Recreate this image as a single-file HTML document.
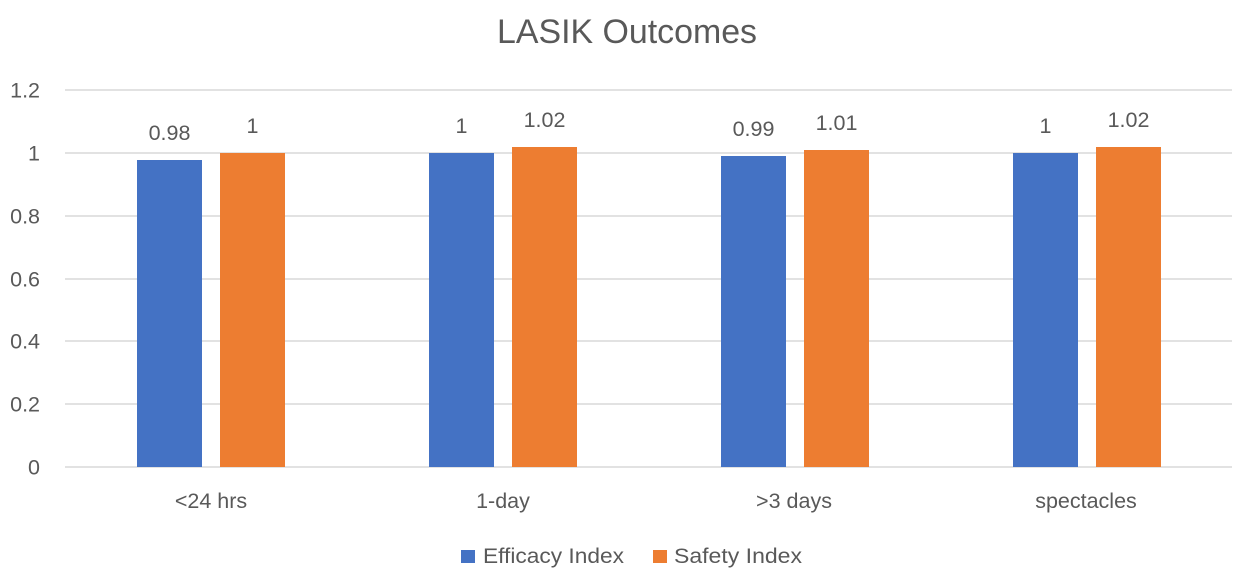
<!DOCTYPE html>
<html><head><meta charset="utf-8"><style>
html,body{margin:0;padding:0;background:#fff;}
svg{display:block;}
text{font-family:"Liberation Sans",sans-serif;fill:#595959;}
</style></head><body>
<svg width="1244" height="584" viewBox="0 0 1244 584" xmlns="http://www.w3.org/2000/svg">
<rect width="1244" height="584" fill="#fff"/>
<text x="627" y="43" font-size="34" text-anchor="middle" textLength="260" lengthAdjust="spacingAndGlyphs">LASIK Outcomes</text>
<g stroke="#D9D9D9" stroke-width="1.5">
<line x1="65" y1="90" x2="1232" y2="90"/>
<line x1="65" y1="153" x2="1232" y2="153"/>
<line x1="65" y1="216" x2="1232" y2="216"/>
<line x1="65" y1="279" x2="1232" y2="279"/>
<line x1="65" y1="341" x2="1232" y2="341"/>
<line x1="65" y1="404" x2="1232" y2="404"/>
<line x1="65" y1="467" x2="1232" y2="467"/>
</g>
<g font-size="21.5" text-anchor="end">
<text x="40" y="97.5">1.2</text>
<text x="40" y="160.5">1</text>
<text x="40" y="223.5">0.8</text>
<text x="40" y="286.5">0.6</text>
<text x="40" y="348.5">0.4</text>
<text x="40" y="411.5">0.2</text>
<text x="40" y="474.5">0</text>
</g>
<g fill="#4472C4">
<rect x="137" y="160" width="65" height="307"/>
<rect x="429" y="153" width="65" height="314"/>
<rect x="721" y="156" width="65" height="311"/>
<rect x="1013" y="153" width="65" height="314"/>
</g>
<g fill="#ED7D31">
<rect x="220" y="153" width="65" height="314"/>
<rect x="512" y="147" width="65" height="320"/>
<rect x="804" y="150" width="65" height="317"/>
<rect x="1096" y="147" width="65" height="320"/>
</g>
<g font-size="21.5" text-anchor="middle">
<text x="169.5" y="140">0.98</text>
<text x="252.5" y="133">1</text>
<text x="461.5" y="133">1</text>
<text x="544.5" y="127">1.02</text>
<text x="753.5" y="136">0.99</text>
<text x="836.5" y="130">1.01</text>
<text x="1045.5" y="133">1</text>
<text x="1128.5" y="127">1.02</text>
</g>
<g font-size="21.5" text-anchor="middle">
<text x="211" y="508">&lt;24 hrs</text>
<text x="503" y="508">1-day</text>
<text x="794" y="508">&gt;3 days</text>
<text x="1086" y="508">spectacles</text>
</g>
<rect x="461" y="550" width="14" height="13" fill="#4472C4"/>
<text x="483" y="563" font-size="21" textLength="141" lengthAdjust="spacingAndGlyphs">Efficacy Index</text>
<rect x="653" y="550" width="14" height="13" fill="#ED7D31"/>
<text x="674" y="563" font-size="21" textLength="128" lengthAdjust="spacingAndGlyphs">Safety Index</text>
</svg>
</body></html>
